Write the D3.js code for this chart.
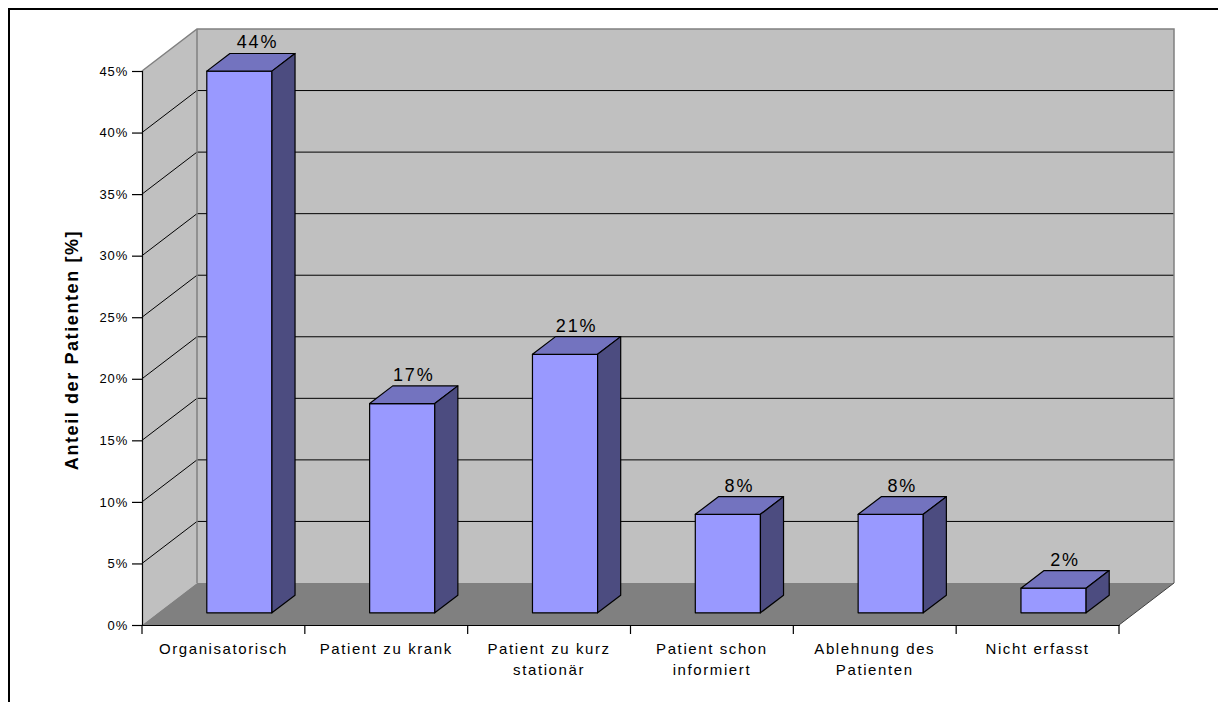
<!DOCTYPE html>
<html>
<head>
<meta charset="utf-8">
<script src="https://cdn.jsdelivr.net/npm/d3@7"></script>
<style>
  body { margin: 0; background: #fff; }
  svg { display: block; }
  text { font-family: "Liberation Sans", Arial, sans-serif; fill: #000; }
</style>
</head>
<body>
<script>
// data
let categories = [
  ["Organisatorisch"],
  ["Patient zu krank"],
  ["Patient zu kurz", "stationär"],
  ["Patient schon", "informiert"],
  ["Ablehnung des", "Patienten"],
  ["Nicht erfasst"]
];
let values = [0.44, 0.17, 0.21, 0.08, 0.08, 0.02];
let valueLabels = ["44%", "17%", "21%", "8%", "8%", "2%"];
let yTicks = [0, 0.05, 0.10, 0.15, 0.20, 0.25, 0.30, 0.35, 0.40, 0.45];
let yTitle = "Anteil der Patienten [%]";

// depth of the 3d box
const DX = 55, DY = -42;
const F0 = 0.29, F1 = 0.71;

let svg = d3.select("body")
  .append("svg")
  .attr("width", 1218)
  .attr("height", 702);

// outer frame (top + left only)
svg.append("path")
  .attr("d", "M9,702 L9,9 L1218,9")
  .attr("fill", "none")
  .attr("stroke", "#000")
  .attr("stroke-width", 2);

let names = categories.map(c => c.join(" "));

let x = d3.scaleBand()
  .domain(names)
  .range([142, 1119])
  .paddingInner(0)
  .paddingOuter(0);

let y = d3.scaleLinear()
  .domain([0, 0.45])
  .range([625, 71]);

function proj(px, py, f) {
  return [px + f * DX, py + f * DY];
}
function poly(pts) {
  return "M" + pts.map(p => p[0] + "," + p[1]).join("L") + "Z";
}

let x0 = 142, x1 = 1119, yb = y(0), yt = y(0.45);

// left wall
svg.append("path")
  .attr("d", poly([proj(x0, yb, 0), proj(x0, yt, 0), proj(x0, yt, 1), proj(x0, yb, 1)]))
  .attr("fill", "#c0c0c0");
// back wall
svg.append("path")
  .attr("d", poly([proj(x0, yt, 1), proj(x1, yt, 1), proj(x1, yb, 1), proj(x0, yb, 1)]))
  .attr("fill", "#c0c0c0");
// floor
svg.append("path")
  .attr("d", poly([proj(x0, yb, 0), proj(x1, yb, 0), proj(x1, yb, 1), proj(x0, yb, 1)]))
  .attr("fill", "#808080");

// gridlines
let grid = svg.append("g");
yTicks.filter(t => t > 0 && t < 0.45).forEach(t => {
  let a = proj(x0, y(t), 0), b = proj(x0, y(t), 1), c = proj(x1, y(t), 1);
  grid.append("path")
    .attr("d", `M${a[0]},${a[1]}L${b[0]},${b[1]}L${c[0]},${c[1]}`)
    .attr("fill", "none")
    .attr("stroke", "#000")
    .attr("stroke-width", 1);
});

// wall edges
let e1 = proj(x0, yt, 0), e2 = proj(x0, yt, 1), e3 = proj(x1, yt, 1), e4 = proj(x1, yb, 1), e5 = proj(x0, yb, 1), e6 = proj(x1, yb, 0);
svg.append("path")
  .attr("d", `M${e1[0]},${e1[1]}L${e2[0]},${e2[1]}L${e3[0]},${e3[1]}L${e4[0]},${e4[1]}`)
  .attr("fill", "none")
  .attr("stroke", "#808080")
  .attr("stroke-width", 1.5);
svg.append("path")
  .attr("d", `M${e2[0]},${e2[1]}L${e5[0]},${e5[1]}`)
  .attr("fill", "none")
  .attr("stroke", "#808080")
  .attr("stroke-width", 1.5);
svg.append("path")
  .attr("d", `M${e6[0]},${e6[1]}L${e4[0]},${e4[1]}`)
  .attr("fill", "none")
  .attr("stroke", "#404040")
  .attr("stroke-width", 1);

// bars
let bw = x.bandwidth() * 0.4;
let bars = svg.append("g")
  .selectAll("g")
  .data(values)
  .enter()
  .append("g");

function barX(i) { return x(names[i]) + (x.bandwidth() - bw) / 2; }

bars.append("path")
  .attr("d", (d, i) => {
    let l = barX(i), r = l + bw;
    return poly([proj(l, y(d), F0), proj(r, y(d), F0), proj(r, y(0), F0), proj(l, y(0), F0)]);
  })
  .attr("fill", "#9999ff");
bars.append("path")
  .attr("d", (d, i) => {
    let l = barX(i), r = l + bw;
    return poly([proj(l, y(d), F0), proj(r, y(d), F0), proj(r, y(d), F1), proj(l, y(d), F1)]);
  })
  .attr("fill", "#7373bf");
bars.append("path")
  .attr("d", (d, i) => {
    let r = barX(i) + bw;
    return poly([proj(r, y(d), F0), proj(r, y(d), F1), proj(r, y(0), F1), proj(r, y(0), F0)]);
  })
  .attr("fill", "#4c4c80");
bars.selectAll("path")
  .attr("stroke", "#000")
  .attr("stroke-width", 1.2)
  .attr("stroke-linejoin", "round");

// value labels
bars.append("text")
  .attr("x", (d, i) => x(names[i]) + x.bandwidth() / 2 + (i === 0 ? 0.62 : 0.5) * DX)
  .attr("y", d => y(d) + F1 * DY - 5)
  .attr("text-anchor", "middle")
  .attr("font-size", "18px")
  .attr("letter-spacing", "1.8px")
  .text((d, i) => valueLabels[i]);

// y axis
let yAxis = svg.append("g")
  .attr("transform", "translate(142,0)")
  .call(d3.axisLeft(y).tickValues(yTicks).tickSize(10).tickPadding(4).tickFormat(d3.format(".0%")));
yAxis.select(".domain").attr("stroke", "#000").attr("stroke-width", 1.2);
yAxis.selectAll(".tick line").attr("stroke", "#000").attr("stroke-width", 1.2);
yAxis.selectAll("text")
  .attr("font-family", "Liberation Sans, Arial, sans-serif")
  .attr("font-size", "13px")
  .attr("letter-spacing", "0.8px")
  .attr("fill", "#000");

// x axis
let xAxis = svg.append("g")
  .attr("transform", `translate(0,${y(0)})`)
  .call(d3.axisBottom(x).tickSize(0).tickFormat(""));
xAxis.select(".domain").attr("stroke", "#000").attr("stroke-width", 1.2);
xAxis.selectAll(".tick").remove();
let edges = names.map(n => x(n)).concat([x1]);
xAxis.selectAll("line.sep")
  .data(edges)
  .enter()
  .append("line")
  .attr("class", "sep")
  .attr("x1", d => d).attr("x2", d => d)
  .attr("y1", 0).attr("y2", 9)
  .attr("stroke", "#000")
  .attr("stroke-width", 1.2);

let xLabels = svg.append("g")
  .selectAll("text")
  .data(categories)
  .enter()
  .append("text")
  .attr("x", (d, i) => x(names[i]) + x.bandwidth() / 2)
  .attr("y", 654)
  .attr("text-anchor", "middle")
  .attr("font-size", "15px")
  .attr("letter-spacing", "1.6px");
xLabels.selectAll("tspan")
  .data(d => d)
  .enter()
  .append("tspan")
  .attr("x", function () { return d3.select(this.parentNode).attr("x"); })
  .attr("dy", (d, i) => i === 0 ? 0 : 21)
  .text(d => d);

// y title
svg.append("text")
  .attr("transform", "translate(78,350) rotate(-90)")
  .attr("text-anchor", "middle")
  .attr("font-size", "18px")
  .attr("font-weight", "bold")
  .attr("letter-spacing", "1.6px")
  .text(yTitle);
</script>
</body>
</html>
